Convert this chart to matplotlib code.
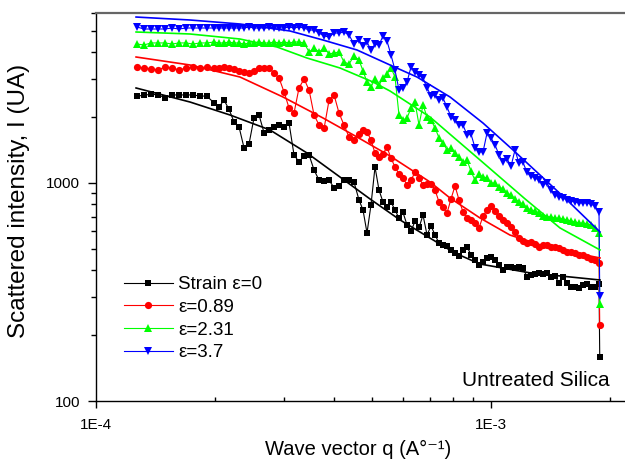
import numpy as np
import matplotlib
matplotlib.use('Agg')
import matplotlib.pyplot as plt
from matplotlib.ticker import LogLocator, FuncFormatter, NullFormatter

plt.rcParams['font.family'] = ['Liberation Sans', 'DejaVu Sans']

# wave vector grid, in units of 1e-4 A^-1 (shared by the four strains)
q_grid = [1.270, 1.323, 1.378, 1.435, 1.495, 1.557, 1.622, 1.690, 1.760, 1.834, 1.910, 1.990,
          2.048, 2.109, 2.171, 2.236, 2.302, 2.370, 2.440, 2.512, 2.587, 2.663, 2.742, 2.823,
          2.907, 2.993, 3.081, 3.172, 3.266, 3.363, 3.463, 3.565, 3.671, 3.779, 3.891, 4.007,
          4.123, 4.245, 4.371, 4.500, 4.633,
          4.742, 4.854, 4.968, 5.086, 5.205, 5.328, 5.454, 5.583, 5.714, 5.849, 5.987, 6.129,
          6.273, 6.421, 6.573, 6.728, 6.887, 7.049, 7.216, 7.386, 7.560, 7.738, 7.921, 8.108,
          8.299, 8.495, 8.696, 8.901, 9.111, 9.326, 9.546, 9.771, 10.00, 10.24, 10.48, 10.72,
          10.98, 11.24, 11.50, 11.77, 12.05, 12.33, 12.62, 12.92, 13.23, 13.54, 13.86, 14.18,
          14.52, 14.86, 15.21, 15.57, 15.94, 16.31, 16.70, 17.09, 17.50, 17.91, 18.33, 18.77,
          18.85]

# scattered intensity (UA)
I_eps0 = [2500, 2530, 2550, 2540, 2460, 2540, 2530, 2540, 2530, 2510, 2500, 2330,
          2230, 2400, 2180, 1905, 1810, 1450, 1510, 1990, 2050, 1700, 1750, 1810, 1845, 1810,
          1885, 1344, 1250, 1330, 1345, 1147, 1030, 1020, 1030, 950, 970, 1030, 1030, 1010, 836,
          752, 590, 793, 1185, 929, 818, 775, 818, 752, 690, 733, 642, 600, 668, 625, 713,
          578, 635, 578, 530, 520, 515, 493, 478, 463, 493, 510, 468, 444, 421, 435, 454,
          459, 444, 421, 399, 412, 412, 408, 412, 408, 371, 379, 383, 387, 383, 387, 371,
          375, 348, 371, 348, 334, 334, 330, 341, 345, 334, 334, 345,
          159]
I_eps089 = [3405, 3370, 3335, 3300, 3405, 3370, 3300, 3370, 3405, 3370, 3405, 3370,
            3370, 3405, 3370, 3335, 3265, 3230, 3195, 3265, 3370, 3370, 3370, 3195, 3030, 2615,
            2210, 2095, 2730, 3000, 2670, 2050, 1845, 1780, 2400, 2530, 2095, 1845, 1625, 1575, 1675,
            1750, 1715, 1575, 1370, 1315, 1360, 1460, 1300, 1185, 1100, 1055, 980, 1030, 1120,
            1055, 980, 990, 990, 930, 818, 775, 728, 845, 970, 836, 737, 690, 677, 655, 622,
            705, 752, 785, 745, 705, 677, 655, 630, 597, 560, 543, 532, 537, 526, 510, 520,
            520, 510, 510, 505, 493, 483, 483, 478, 468, 468, 459, 449, 444, 431,
            223]
I_eps231 = [4340, 4296, 4390, 4390, 4390, 4340, 4390, 4390, 4340, 4390, 4390, 4435,
            4390, 4390, 4435, 4390, 4390, 4340, 4390, 4390, 4435, 4390, 4390, 4435, 4390, 4435,
            4390, 4435, 4435, 4390, 3990, 4160, 3990, 4160, 3910, 3950, 3990, 3590, 3515, 3825, 3667,
            3265, 2905, 2760, 3000, 2815, 3030, 3160, 3370, 3065, 2050, 1945, 1985, 2210, 2350,
            1845, 2280, 2010, 1945, 1790, 1610, 1525, 1420, 1450, 1375, 1315, 1245, 1275, 1130,
            1030, 1095, 1065, 1055, 1000, 1000, 960, 940, 900, 880, 845, 820, 800, 770, 752,
            745, 730, 705, 700, 700, 690, 690, 683, 677, 670, 663, 655, 655, 650, 642, 622, 590,
            279]
I_eps37 = [5195, 5086, 5086, 5086, 5086, 5140, 5086, 5140, 5140, 5140, 5140, 5140,
           5140, 5140, 5140, 5140, 5140, 5140, 5195, 5140, 5140, 5140, 5195, 5140, 5140, 5140,
           5195, 5140, 5195, 5140, 5032, 5032, 4875, 4725, 4675, 4875, 4875, 4925, 4773, 4340, 4529,
           4250, 4430, 4075, 4340, 4296, 4725, 4480, 3866, 3299, 2671, 2730, 2905, 3405, 3230,
           3129, 3030, 2730, 2510, 2533, 2403, 2450, 2230, 2010, 1945, 1845, 1845, 1660, 1675,
           1450, 1390, 1390, 1695, 1610, 1494, 1344, 1245, 1290, 1195, 1417, 1235, 1245, 1120,
           1075, 1055, 1032, 979, 1000, 929, 881, 863, 855, 836, 828, 818, 810, 810, 810, 800,
           785, 737,
           303]

# fitted curves, q in 1e-4 A^-1
fit_q_eps0 = [1.263, 1.730, 2.184, 2.757, 3.421, 4.147, 4.939, 5.884, 7.006, 8.108, 9.380, 12.55, 18.88]
fit_I_eps0 = [2728, 2352, 2051, 1751, 1373, 1065, 845, 677, 559, 477, 425, 387, 359]
fit_q_eps089 = [1.263, 1.730, 2.315, 2.975, 3.756, 4.579, 5.551, 7.006, 7.877, 9.380, 11.17, 14.11, 18.88]
fit_I_eps089 = [3784, 3478, 3063, 2480, 1987, 1626, 1330, 1011, 853, 691, 577, 503, 453]
fit_q_eps231 = [1.263, 1.730, 2.315, 2.872, 3.421, 4.147, 5.027, 5.551, 7.006, 9.380, 12.20, 14.95, 18.88]
fit_I_eps231 = [4928, 4825, 4576, 4206, 3744, 3369, 2906, 2642, 2008, 1275, 845, 622, 493]
fit_q_eps37 = [1.263, 1.730, 2.315, 3.098, 3.756, 4.579, 5.551, 6.496, 7.877, 9.544, 11.37, 15.57, 18.88]
fit_I_eps37 = [5772, 5594, 5362, 4981, 4528, 4075, 3478, 3063, 2480, 1884, 1417, 836, 596]

q = np.array(q_grid) * 1e-4

fig = plt.figure(figsize=(6.25, 4.61), dpi=100)
ax = fig.add_axes([96 / 625, 60 / 461, 529 / 625, 388 / 461])

series = [
    (I_eps0, fit_q_eps0, fit_I_eps0, 'black', 's', 4.5, 'Strain \u03b5=0'),
    (I_eps089, fit_q_eps089, fit_I_eps089, '#ff0000', 'o', 5.2, '\u03b5=0.89'),
    (I_eps231, fit_q_eps231, fit_I_eps231, '#00ff00', '^', 5.4, '\u03b5=2.31'),
    (I_eps37, fit_q_eps37, fit_I_eps37, '#0000ff', 'v', 5.4, '\u03b5=3.7'),
]
for I, fq, fI, col, mk, ms, lab in series:
    ax.plot(q, I, '-', marker=mk, color=col, ms=ms, lw=0.8, mew=0, label=lab)
for I, fq, fI, col, mk, ms, lab in series:
    ax.plot(np.array(fq) * 1e-4, fI, '-', color=col, lw=1.2)

ax.set_xscale('log')
ax.set_yscale('log')
ax.set_xlim(1e-4, 2.184e-3)
ax.set_ylim(100, 6023)

ax.xaxis.set_major_locator(LogLocator(base=10))
ax.xaxis.set_minor_locator(LogLocator(base=10, subs=np.arange(2, 10)))
ax.yaxis.set_minor_locator(LogLocator(base=10, subs=np.arange(2, 10)))
ax.xaxis.set_major_formatter(FuncFormatter(lambda v, p: '1E%d' % round(np.log10(v))))
ax.yaxis.set_major_formatter(FuncFormatter(lambda v, p: '%d' % round(v)))
ax.xaxis.set_minor_formatter(NullFormatter())
ax.yaxis.set_minor_formatter(NullFormatter())

ax.tick_params(axis='x', which='major', direction='out', length=5, width=1, pad=7, labelsize=11)
ax.tick_params(axis='x', which='minor', direction='in', length=3, width=1)
ax.tick_params(axis='y', which='major', direction='out', length=5.5, width=1, pad=6, labelsize=11)
ax.tick_params(axis='y', which='minor', direction='out', length=3.5, width=1)
ax.tick_params(top=False, right=False, which='both')

ax.spines['right'].set_visible(False)
ax.spines['top'].set_color('#666666')
ax.spines['top'].set_linewidth(1.6)
ax.spines['left'].set_linewidth(1.0)
ax.spines['bottom'].set_linewidth(1.0)

ax.set_xlabel('Wave vector q (A\u00b0\u207b\u00b9)', fontsize=14.5)
ax.set_ylabel('Scattered intensity, I (UA)', fontsize=17.5)
ax.xaxis.set_label_coords(0.496, -0.1)
ax.yaxis.set_label_coords(-0.124, 0.515)

ax.legend(loc='upper left', bbox_to_anchor=(0.053, 0.322), frameon=False, fontsize=13.5,
          handlelength=2.6, handletextpad=0.3, labelspacing=0.3, borderpad=0, borderaxespad=0)

ax.text(0.9716, 0.054, 'Untreated Silica', transform=ax.transAxes, ha='right', va='center',
        fontsize=15)

fig.savefig('out.png', dpi=100)
